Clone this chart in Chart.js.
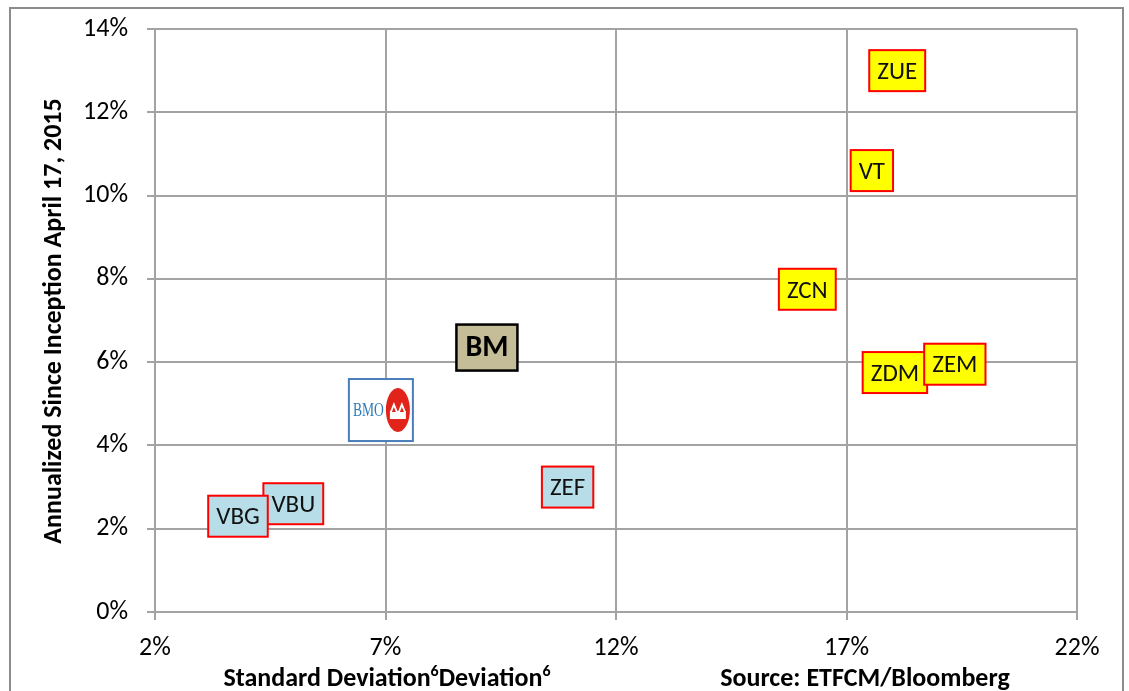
<!DOCTYPE html>
<html>
<head>
<meta charset="utf-8">
<title>Risk vs Return</title>
<script src="https://cdn.jsdelivr.net/npm/chart.js@4"></script>
<style>
  html, body { margin: 0; padding: 0; background: #fff; }
  #wrap { width: 1129px; height: 691px; }
</style>
</head>
<body>
<div id="wrap"><canvas id="riskChart" width="1129" height="691"></canvas></div>
<script>
// data (x = standard deviation %, y = annualized return %)
const tickers = ["ZUE", "VT", "ZCN", "ZDM", "ZEM", "ZEF", "VBU", "VBG", "BM", "BMO"];
const stdDev = [18.1, 17.55, 16.15, 18.05, 19.35, 10.95, 5.0, 3.8, 9.2, 6.9];
const annReturn = [13.0, 10.6, 7.75, 5.75, 5.95, 3.0, 2.6, 2.3, 6.35, 4.85];
const groups = ["equity", "equity", "equity", "equity", "equity", "bond", "bond", "bond", "benchmark", "logo"];

const xTicks = [2, 7, 12, 17, 22];
const yTicks = [0, 2, 4, 6, 8, 10, 12, 14];

const FONT = "Carlito, Lato, 'Open Sans', sans-serif";
const GRID = "#a3a3a3";

const boxColors = {
  equity: { fill: "#ffff00", stroke: "#ff0000" },
  bond: { fill: "#b7dee8", stroke: "#ff0000" },
};

function drawBmoLogo(ctx, cx, cy) {
  ctx.save();
  ctx.fillStyle = "#fff";
  ctx.fillRect(cx - 32, cy - 31, 64, 62);
  ctx.strokeStyle = "#4a7ebb";
  ctx.lineWidth = 2;
  ctx.strokeRect(cx - 32, cy - 31, 64, 62);

  ctx.fillStyle = "#2b7bb9";
  ctx.font = "17px 'Liberation Serif', 'DejaVu Serif', serif";
  ctx.textAlign = "left";
  ctx.textBaseline = "middle";
  ctx.save();
  ctx.translate(cx - 28, cy + 1);
  ctx.scale(0.8, 1.05);
  ctx.fillText("BMO", 0, 0);
  ctx.restore();

  // roundel
  const ox = cx + 17, oy = cy;
  ctx.fillStyle = "#e2231a";
  ctx.beginPath();
  ctx.ellipse(ox, oy, 12, 22, 0, 0, Math.PI * 2);
  ctx.fill();
  ctx.fillStyle = "#fff";
  ctx.fillRect(ox - 8, oy + 1, 16, 8);
  ctx.beginPath();
  ctx.moveTo(ox - 8, oy + 2); ctx.lineTo(ox - 4, oy - 8); ctx.lineTo(ox, oy + 2);
  ctx.moveTo(ox, oy + 2); ctx.lineTo(ox + 4, oy - 8); ctx.lineTo(ox + 8, oy + 2);
  ctx.fill();
  ctx.fillStyle = "#e2231a";
  ctx.beginPath();
  ctx.moveTo(ox - 6, oy + 2); ctx.lineTo(ox - 4, oy - 3); ctx.lineTo(ox - 2, oy + 2);
  ctx.moveTo(ox + 2, oy + 2); ctx.lineTo(ox + 4, oy - 3); ctx.lineTo(ox + 6, oy + 2);
  ctx.fill();
  ctx.restore();
}

// Label boxes drawn at each point
const labelBoxes = {
  id: "labelBoxes",
  afterDatasetsDraw(chart) {
    const ctx = chart.ctx;
    const meta = chart.getDatasetMeta(0);
    meta.data.forEach((pt, i) => {
      const { x, y } = pt.getProps(["x", "y"], true);
      const name = tickers[i];
      const g = groups[i];
      ctx.save();
      if (g === "logo") {
        drawBmoLogo(ctx, x, y);
      } else if (g === "benchmark") {
        ctx.font = "bold 30px " + FONT;
        const w = 61, h = 46;
        ctx.fillStyle = "#c4bd97";
        ctx.fillRect(x - w / 2, y - h / 2, w, h);
        ctx.strokeStyle = "#000";
        ctx.lineWidth = 2.5;
        ctx.strokeRect(x - w / 2, y - h / 2, w, h);
        ctx.fillStyle = "#000";
        ctx.textAlign = "center";
        ctx.textBaseline = "middle";
        ctx.fillText(name, x, y + 1);
      } else {
        ctx.font = "25px " + FONT;
        const w = ctx.measureText(name).width + 16, h = 41;
        ctx.fillStyle = boxColors[g].fill;
        ctx.fillRect(x - w / 2, y - h / 2, w, h);
        ctx.strokeStyle = boxColors[g].stroke;
        ctx.lineWidth = 2;
        ctx.strokeRect(x - w / 2, y - h / 2, w, h);
        ctx.fillStyle = "#111";
        ctx.textAlign = "center";
        ctx.textBaseline = "middle";
        ctx.fillText(name, x, y + 2);
      }
      ctx.restore();
    });
  },
  afterDraw(chart) {
    const ctx = chart.ctx;
    ctx.save();
    // outer frame
    ctx.strokeStyle = "#8c8c8c";
    ctx.lineWidth = 2;
    ctx.beginPath();
    ctx.moveTo(10, 691);
    ctx.lineTo(10, 8);
    ctx.lineTo(1123, 8);
    ctx.lineTo(1123, 691);
    ctx.stroke();

    // y axis title
    ctx.fillStyle = "#000";
    ctx.font = "bold 26px " + FONT;
    ctx.textAlign = "center";
    ctx.textBaseline = "middle";
    ctx.save();
    ctx.translate(54, 321);
    ctx.rotate(-Math.PI / 2);
    ctx.fillText("Annualized Since Inception April 17, 2015", 0, 0);
    ctx.restore();

    // x axis title with superscripts
    const parts = [["Standard Deviation", false], ["6", true], ["Deviation", false], ["6", true]];
    const big = "bold 26px " + FONT, small = "bold 16px " + FONT;
    let total = 0;
    parts.forEach(([t, sup]) => {
      ctx.font = sup ? small : big;
      total += ctx.measureText(t).width;
    });
    let px = 387 - total / 2;
    ctx.textAlign = "left";
    ctx.textBaseline = "alphabetic";
    parts.forEach(([t, sup]) => {
      ctx.font = sup ? small : big;
      ctx.fillText(t, px, sup ? 676 : 686);
      px += ctx.measureText(t).width;
    });

    ctx.font = big;
    ctx.textAlign = "center";
    ctx.fillText("Source: ETFCM/Bloomberg", 865, 686);
    ctx.restore();
  },
};

function initializeChart() {
  const ctx = document.getElementById("riskChart").getContext("2d");
  new Chart(ctx, {
    type: "scatter",
    data: {
      datasets: [
        {
          label: "Funds",
          data: tickers.map((t, i) => ({ x: stdDev[i], y: annReturn[i] })),
          pointRadius: 0,
          pointHoverRadius: 0,
        },
      ],
    },
    options: {
      responsive: false,
      animation: false,
      devicePixelRatio: 1,
      layout: { padding: { top: 29, right: 52, left: 0, bottom: 0 } },
      plugins: {
        legend: { display: false },
        tooltip: { enabled: false },
      },
      scales: {
        x: {
          type: "linear",
          min: 2,
          max: 22,
          afterBuildTicks: (scale) => {
            scale.ticks = xTicks.map((v) => ({ value: v }));
          },
          afterFit: (scale) => {
            scale.height = 79;
            scale.paddingLeft = 0;
            scale.paddingRight = 0;
          },
          ticks: {
            callback: (v) => v + "%",
            color: "#000",
            font: { family: FONT, size: 26 },
            padding: 13,
            maxRotation: 0,
          },
          grid: { color: GRID, lineWidth: 2, tickLength: 8 },
          border: { color: GRID, width: 2 },
        },
        y: {
          type: "linear",
          min: 0,
          max: 14,
          afterBuildTicks: (scale) => {
            scale.ticks = yTicks.map((v) => ({ value: v }));
          },
          afterFit: (scale) => {
            scale.width = 155;
            scale.paddingTop = 0;
            scale.paddingBottom = 0;
          },
          ticks: {
            callback: (v) => v + "%",
            color: "#000",
            font: { family: FONT, size: 26 },
            padding: 19,
          },
          grid: { color: GRID, lineWidth: 2, tickLength: 8 },
          border: { color: GRID, width: 2 },
        },
      },
    },
    plugins: [labelBoxes],
  });
}

document.addEventListener("DOMContentLoaded", () => {
  initializeChart();
});
</script>
</body>
</html>
